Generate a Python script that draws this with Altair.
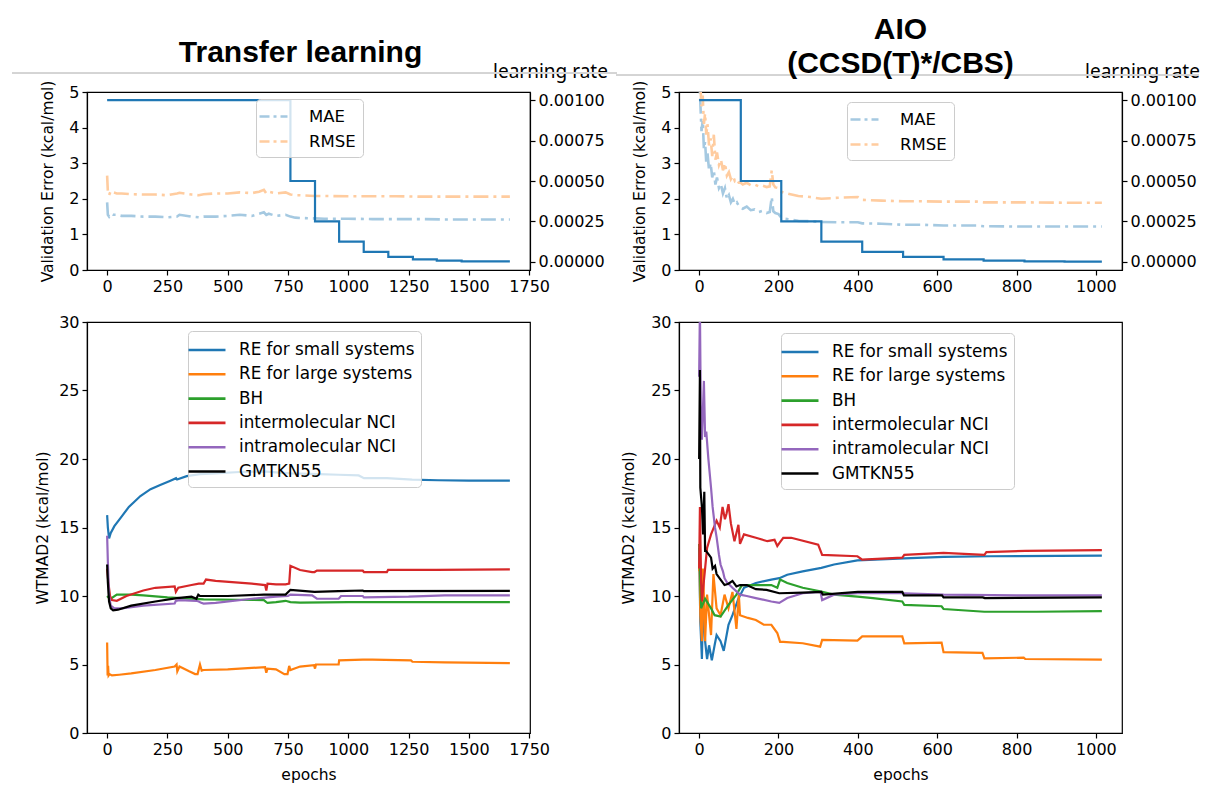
import altair as alt
import pandas as pd

FONT = "DejaVu Sans"
TITLE_FONT = "Liberation Sans"

# ---------------- Top panels: validation error + learning rate ----------------
tl_val_epoch = [0, 3, 8, 15, 25, 40, 60, 100, 150, 200, 250, 290, 300, 350, 380, 400, 450, 500, 550,
                600, 630, 650, 660, 670, 700, 740, 760, 780, 800, 860, 900, 1000, 1100, 1200, 1300,
                1400, 1500, 1670]
tl_mae = [1.9, 1.55, 1.5, 1.58, 1.55, 1.55, 1.52, 1.52, 1.5, 1.5, 1.48, 1.5, 1.55, 1.5, 1.48, 1.5, 1.5,
          1.52, 1.55, 1.52, 1.58, 1.62, 1.55, 1.58, 1.52, 1.55, 1.5, 1.47, 1.46, 1.45, 1.44, 1.44, 1.43,
          1.43, 1.43, 1.42, 1.42, 1.42]
tl_rmse = [2.65, 2.2, 2.1, 2.22, 2.18, 2.15, 2.15, 2.13, 2.12, 2.12, 2.1, 2.15, 2.17, 2.12, 2.1, 2.13,
           2.15, 2.15, 2.18, 2.16, 2.2, 2.25, 2.15, 2.2, 2.15, 2.18, 2.12, 2.1, 2.1, 2.08, 2.08, 2.07,
           2.07, 2.07, 2.06, 2.06, 2.06, 2.06]
tl_lr_epoch = [0, 760, 862, 962, 1064, 1166, 1268, 1367, 1470, 1670]
tl_lr = [0.001, 0.0005, 0.00025, 0.000125, 0.0000625, 0.00003125, 0.000015625, 0.0000078125,
         0.0000039, 0.0000039]

aio_val_epoch = [0, 3, 6, 9, 12, 15, 18, 21, 25, 29, 33, 37, 41, 45, 50, 55, 60, 65, 70, 75, 80, 85, 90,
                 95, 100, 105, 110, 120, 130, 140, 150, 160, 170, 178, 183, 187, 192, 200, 207, 215, 230,
                 250, 280, 308, 350, 400, 411, 460, 514, 560, 616, 700, 717, 820, 921, 1015]
aio_mae = [5.6, 4.7, 3.9, 4.2, 3.4, 3.6, 3.0, 3.3, 2.8, 3.0, 2.6, 2.8, 2.4, 2.6, 2.3, 2.4, 2.15, 2.3, 2.0,
           2.1, 1.9, 2.0, 1.85, 1.9, 1.8, 1.75, 1.72, 1.78, 1.68, 1.7, 1.63, 1.66, 1.6, 1.63, 2.05, 1.65,
           1.6, 1.57, 1.47, 1.44, 1.42, 1.38, 1.37, 1.35, 1.34, 1.34, 1.31, 1.3, 1.27, 1.27, 1.25, 1.25,
           1.23, 1.22, 1.22, 1.22]
aio_rmse = [6.0, 5.2, 4.6, 4.9, 4.1, 4.4, 3.8, 4.1, 3.5, 3.7, 3.2, 3.8, 3.1, 3.3, 2.95, 3.1, 2.8, 3.0,
            2.65, 2.75, 2.55, 2.65, 2.5, 2.55, 2.45, 2.45, 2.4, 2.45, 2.38, 2.4, 2.35, 2.37, 2.33, 2.35,
            2.8, 2.4, 2.32, 2.3, 2.2, 2.17, 2.13, 2.08, 2.05, 2.0, 2.03, 2.05, 1.97, 1.95, 1.93, 1.93,
            1.92, 1.92, 1.9, 1.9, 1.89, 1.89]
aio_lr_epoch = [0, 105, 207, 308, 411, 514, 616, 717, 820, 921, 1015]
aio_lr = [0.001, 0.0005, 0.00025, 0.000125, 0.0000625, 0.00003125, 0.000015625, 0.0000078125,
          0.0000039, 0.00000195, 0.00000195]

# ---------------- Bottom panels: WTMAD2 per subset ----------------
series_names = ["RE for small systems", "RE for large systems", "BH",
                "intermolecular NCI", "intramolecular NCI", "GMTKN55"]
series_colors = ["#1f77b4", "#ff7f0e", "#2ca02c", "#d62728", "#9467bd", "#000000"]

tl_small_x = [0, 3, 8, 15, 30, 56, 90, 138, 180, 220, 260, 286, 290, 330, 385, 450, 549, 650, 714, 760,
              878, 960, 1043, 1065, 1160, 1265, 1372, 1500, 1670]
tl_small_y = [15.9, 15.0, 14.2, 14.6, 15.1, 15.7, 16.5, 17.3, 17.8, 18.1, 18.4, 18.6, 18.5, 18.75, 18.9,
              18.95, 19.05, 19.1, 19.0, 18.95, 18.9, 18.85, 18.8, 18.6, 18.6, 18.5, 18.45, 18.42, 18.42]
tl_large_x = [0, 2, 4, 6, 10, 20, 50, 100, 200, 280, 288, 291, 300, 340, 365, 375, 385, 392, 400, 500,
              600, 655, 660, 665, 700, 735, 748, 755, 760, 800, 858, 862, 866, 960, 962, 1060, 1100, 1260,
              1266, 1400, 1670]
tl_large_y = [6.6, 4.2, 4.9, 4.2, 4.3, 4.2, 4.25, 4.35, 4.6, 4.85, 5.0, 4.5, 4.85, 4.5, 4.3, 4.3, 5.0,
              4.55, 4.6, 4.65, 4.75, 4.8, 4.4, 4.7, 4.65, 4.3, 4.3, 4.9, 4.6, 4.85, 4.95, 4.7, 5.0, 5.0,
              5.3, 5.35, 5.35, 5.3, 5.2, 5.15, 5.1]
tl_bh_x = [0, 5, 15, 40, 100, 150, 250, 400, 650, 660, 665, 700, 740, 760, 800, 1000, 1670]
tl_bh_y = [10.0, 9.9, 9.8, 10.1, 10.1, 10.05, 9.9, 9.75, 9.7, 9.55, 9.5, 9.55, 9.65, 9.55, 9.52, 9.55, 9.55]
tl_inter_x = [0, 5, 12, 20, 40, 80, 150, 200, 280, 285, 295, 350, 380, 400, 410, 450, 600, 655, 660,
              665, 700, 740, 755, 760, 800, 850, 860, 870, 960, 1060, 1065, 1160, 1165, 1365, 1670]
tl_inter_y = [12.0, 11.0, 10.0, 9.7, 9.65, 10.0, 10.4, 10.6, 10.7, 10.3, 10.6, 10.8, 10.9, 10.9, 11.2,
              11.1, 10.9, 10.8, 10.4, 10.9, 10.85, 10.85, 10.9, 12.2, 11.9, 11.75, 11.75, 11.85, 11.85,
              11.85, 11.75, 11.75, 11.9, 11.9, 11.95]
tl_intra_x = [0, 3, 8, 15, 30, 60, 150, 280, 285, 300, 370, 380, 390, 400, 450, 600, 700, 750, 760, 850,
              870, 960, 970, 1060, 1065, 1250, 1400, 1670]
tl_intra_y = [14.4, 12.5, 10.0, 9.3, 9.1, 9.1, 9.3, 9.45, 9.65, 9.7, 9.65, 9.6, 9.5, 9.45, 9.5, 9.8,
              9.95, 10.0, 10.1, 10.05, 9.8, 9.8, 10.0, 10.0, 9.9, 9.95, 10.05, 10.05]
tl_gmtkn_x = [0, 3, 8, 15, 25, 45, 100, 200, 290, 350, 370, 378, 385, 500, 650, 740, 760, 860, 960, 1060,
              1065, 1670]
tl_gmtkn_y = [12.3, 11.0, 9.6, 9.1, 8.95, 9.0, 9.3, 9.6, 9.85, 9.95, 9.8, 10.1, 10.0, 10.0, 10.1, 10.1,
              10.45, 10.3, 10.35, 10.4, 10.35, 10.38]

aio_small_x = [0, 3, 7, 10, 15, 20, 25, 32, 39, 44, 54, 62, 74, 84, 99, 113, 143, 182, 202, 222, 261,
               308, 340, 399, 517, 616, 734, 1015]
aio_small_y = [13.5, 8.1, 5.4, 9.8, 6.7, 5.4, 6.4, 5.3, 6.4, 7.15, 6.7, 6.0, 7.9, 8.6, 9.8, 10.6, 10.95,
               11.2, 11.3, 11.55, 11.8, 12.05, 12.3, 12.6, 12.75, 12.85, 12.9, 12.95]
aio_large_x = [0, 1, 3, 7, 10, 15, 20, 30, 36, 44, 54, 64, 74, 84, 94, 100, 103, 123, 143, 163, 182,
               197, 204, 212, 261, 305, 310, 399, 411, 512, 517, 611, 616, 714, 719, 818, 822, 1015]
aio_large_y = [11.8, 12.5, 8.6, 6.7, 12.0, 6.7, 10.1, 7.15, 11.6, 9.1, 8.6, 10.1, 9.1, 10.3, 7.6, 10.1,
               8.6, 8.4, 8.25, 7.9, 7.9, 7.3, 6.65, 6.65, 6.55, 6.3, 6.8, 6.75, 7.05, 7.05, 6.55, 6.6,
               5.9, 5.85, 5.45, 5.5, 5.4, 5.35]
aio_bh_x = [0, 5, 15, 30, 39, 54, 74, 94, 108, 143, 182, 197, 204, 222, 261, 305, 340, 399, 438, 512,
            517, 611, 616, 719, 850, 1015]
aio_bh_y = [13.8, 9.1, 9.8, 9.1, 8.6, 8.5, 9.35, 10.1, 10.8, 10.8, 10.8, 10.6, 11.2, 10.95, 10.6, 10.35,
            10.1, 9.95, 9.85, 9.6, 9.35, 9.25, 9.05, 8.85, 8.85, 8.9]
aio_inter_x = [0, 2, 5, 7, 10, 15, 20, 30, 44, 52, 59, 65, 69, 74, 80, 89, 99, 103, 113, 143, 172, 190,
               197, 203, 212, 232, 300, 310, 399, 411, 512, 517, 616, 719, 724, 822, 1015]
aio_inter_y = [12.0, 16.5, 11.0, 9.6, 10.5, 12.0, 13.5, 14.5, 15.5, 15.0, 16.5, 15.6, 16.0, 16.7, 15.3,
               14.0, 15.2, 13.8, 14.5, 14.25, 14.0, 14.1, 13.65, 13.9, 14.25, 14.25, 13.75, 13.0, 12.9,
               12.65, 12.8, 13.0, 13.15, 13.0, 13.2, 13.3, 13.35]
aio_intra_x = [0, 2, 4, 7, 10, 12, 15, 18, 23, 30, 34, 40, 44, 50, 54, 60, 64, 70, 84, 103, 120, 143,
               182, 202, 222, 261, 306, 310, 340, 399, 517, 616, 800, 1015]
aio_intra_y = [26, 31, 24, 21.4, 24, 25.7, 21.6, 22, 20.1, 17.9, 16.5, 15.0, 14.3, 13.0, 12.3, 11.8,
               11.3, 11.0, 10.6, 10.1, 10.0, 9.85, 9.6, 9.5, 9.85, 10.2, 10.3, 9.7, 10.1, 10.2, 10.2,
               10.1, 10.05, 10.04]
aio_gmtkn_x = [0, 2, 3, 7, 10, 13, 15, 17, 25, 30, 34, 40, 44, 54, 64, 74, 84, 94, 103, 120, 143, 170,
               202, 261, 308, 312, 400, 512, 516, 612, 616, 715, 720, 1015]
aio_gmtkn_y = [20.0, 26.5, 17.9, 16.5, 14.5, 17.6, 13.3, 13.3, 13.0, 12.8, 12.0, 12.2, 11.6, 11.2, 10.8,
               10.9, 11.1, 10.7, 10.8, 10.8, 10.5, 10.45, 10.2, 10.25, 10.3, 10.1, 10.3, 10.3, 10.05,
               10.05, 9.9, 9.9, 9.85, 9.9]

tl_ticks = [0, 250, 500, 750, 1000, 1250, 1500, 1750]
aio_ticks = [0, 200, 400, 600, 800, 1000]
tl_xdomain = [-83.5, 1753.5]
aio_xdomain = [-50.75, 1065.75]
lr_ticks = [0, 0.00025, 0.0005, 0.00075, 0.001]
err_ticks = [0, 1, 2, 3, 4, 5]
wt_ticks = [0, 5, 10, 15, 20, 25, 30]

PANEL_W = 443
TOP_H = 178
BOT_H = 411
LINE_SYMBOL = "M-1.6,0L1.6,0"


def frame(pairs, name_field):
    rows = []
    for name, xs, ys in pairs:
        for i, (x, y) in enumerate(zip(xs, ys)):
            rows.append({name_field: name, "epoch": x, "value": y, "idx": i})
    return pd.DataFrame(rows)


def top_panel(epochs, mae, rmse, lr_epochs, lr_vals, xdomain, xticks, title, lx, ly, sep):
    err_df = frame([("MAE", epochs, mae), ("RMSE", epochs, rmse)], "metric")
    lr_df = pd.DataFrame({"epoch": lr_epochs, "lr": lr_vals})
    x_enc = alt.X("epoch:Q", scale=alt.Scale(domain=xdomain, nice=False, zero=False),
                  axis=alt.Axis(values=xticks, title=None, format="d", labelOverlap=False,
                                labelFlush=False))
    err = alt.Chart(err_df).mark_line(strokeWidth=2.6, strokeDash=[15, 5, 3, 5], clip=True).encode(
        x=x_enc,
        y=alt.Y("value:Q", scale=alt.Scale(domain=[0, 5], nice=False),
                axis=alt.Axis(values=err_ticks, title="Validation Error (kcal/mol)", titlePadding=13)),
        color=alt.Color("metric:N",
                        scale=alt.Scale(domain=["MAE", "RMSE"], range=["#a5c9e1", "#ffcc9f"]),
                        legend=alt.Legend(title=None, orient="none", legendX=lx, legendY=ly,
                                          fillColor="rgba(255,255,255,0.8)", strokeColor="#cccccc",
                                          cornerRadius=4, padding=7, labelFont=FONT, labelFontSize=16.5,
                                          labelColor="black", symbolType=LINE_SYMBOL, symbolSize=306,
                                          symbolStrokeWidth=2.6, symbolDash=[10, 4, 3, 4],
                                          labelOffset=25, rowPadding=6, labelLimit=400)),
        order="idx:Q",
    )
    lr = alt.Chart(lr_df).mark_line(interpolate="step-after", color="#1f77b4", strokeWidth=2.2).encode(
        x=x_enc,
        y=alt.Y("lr:Q", scale=alt.Scale(domain=[-0.00005, 0.00105], nice=False, zero=False),
                axis=alt.Axis(orient="right", values=lr_ticks, format=".5f", title="learning rate",
                              titleAngle=0, titleAlign="center", titleBaseline="alphabetic",
                              titleX=20, titleY=-15, titleFont="Noto Sans", titleFontSize=19)),
    )
    # thin grey separator line that crosses the top of the figure in the reference image
    line = alt.Chart(lr_df).mark_rule(color="#d4d4d4", strokeWidth=1).encode(
        x=alt.value(sep[0]), x2=alt.value(sep[1]), y=alt.value(sep[2]))
    return alt.layer(line, err, lr).resolve_scale(y="independent").properties(
        width=PANEL_W, height=TOP_H, title=title)


def bottom_panel(pairs, xdomain, xticks, lx, ly, ytitle_pad):
    df = frame(pairs, "series")
    return alt.Chart(df).mark_line(strokeWidth=2.2, clip=True).encode(
        x=alt.X("epoch:Q", scale=alt.Scale(domain=xdomain, nice=False, zero=False),
                axis=alt.Axis(values=xticks, title="epochs", format="d", titlePadding=10,
                              labelOverlap=False, labelFlush=False)),
        y=alt.Y("value:Q", scale=alt.Scale(domain=[0, 30], nice=False),
                axis=alt.Axis(values=wt_ticks, title="WTMAD2 (kcal/mol)", titlePadding=ytitle_pad)),
        color=alt.Color("series:N", scale=alt.Scale(domain=series_names, range=series_colors),
                        legend=alt.Legend(title=None, orient="none", legendX=lx, legendY=ly,
                                          fillColor="rgba(255,255,255,0.8)", strokeColor="#cccccc",
                                          cornerRadius=4, padding=6, labelFont=FONT, labelFontSize=16.8,
                                          labelColor="black", symbolType=LINE_SYMBOL, symbolSize=534,
                                          symbolStrokeWidth=2.6, labelOffset=19, rowPadding=2.3,
                                          labelLimit=400)),
        order="idx:Q",
    ).properties(width=PANEL_W, height=BOT_H)


tl = top_panel(tl_val_epoch, tl_mae, tl_rmse, tl_lr_epoch, tl_lr, tl_xdomain, tl_ticks,
               alt.TitleParams(text="Transfer learning", font=TITLE_FONT, fontSize=30, fontWeight="bold",
                               color="black", anchor="middle", baseline="alphabetic", offset=-30, dx=-8),
               169, 7, (-75, 530, -19))
tr = top_panel(aio_val_epoch, aio_mae, aio_rmse, aio_lr_epoch, aio_lr, aio_xdomain, aio_ticks,
               alt.TitleParams(text=["AIO", "(CCSD(T)*/CBS)"], font=TITLE_FONT, fontSize=30,
                               fontWeight="bold", color="black", anchor="middle", baseline="alphabetic",
                               lineHeight=34, offset=-41),
               168, 10, (-63, 520, -17))

bl = bottom_panel([(series_names[0], tl_small_x, tl_small_y), (series_names[1], tl_large_x, tl_large_y),
                   (series_names[2], tl_bh_x, tl_bh_y), (series_names[3], tl_inter_x, tl_inter_y),
                   (series_names[4], tl_intra_x, tl_intra_y), (series_names[5], tl_gmtkn_x, tl_gmtkn_y)],
                  tl_xdomain, tl_ticks, 101, 9, 8)
br = bottom_panel([(series_names[0], aio_small_x, aio_small_y), (series_names[1], aio_large_x, aio_large_y),
                   (series_names[2], aio_bh_x, aio_bh_y), (series_names[3], aio_inter_x, aio_inter_y),
                   (series_names[4], aio_intra_x, aio_intra_y), (series_names[5], aio_gmtkn_x, aio_gmtkn_y)],
                  aio_xdomain, aio_ticks, 102, 11, 14)

chart = alt.concat(tl, tr, bl, br, columns=2, spacing={"row": 52, "column": 149},
                   bounds="flush").resolve_scale(color="independent").properties(
    padding={"left": 10, "top": 14, "right": 2, "bottom": 4}, background="white"
).configure_view(stroke="black", strokeWidth=1.2).configure_axis(
    labelFont=FONT, labelFontSize=16, labelColor="black", titleFont=FONT, titleFontSize=15.5,
    titleFontWeight="normal", titleColor="black", domainColor="black", tickColor="black",
    tickSize=5, labelPadding=3, grid=False, domainWidth=1.2, tickWidth=1.2
)

chart.save("out.html", embed_options={"renderer": "svg", "actions": False})
